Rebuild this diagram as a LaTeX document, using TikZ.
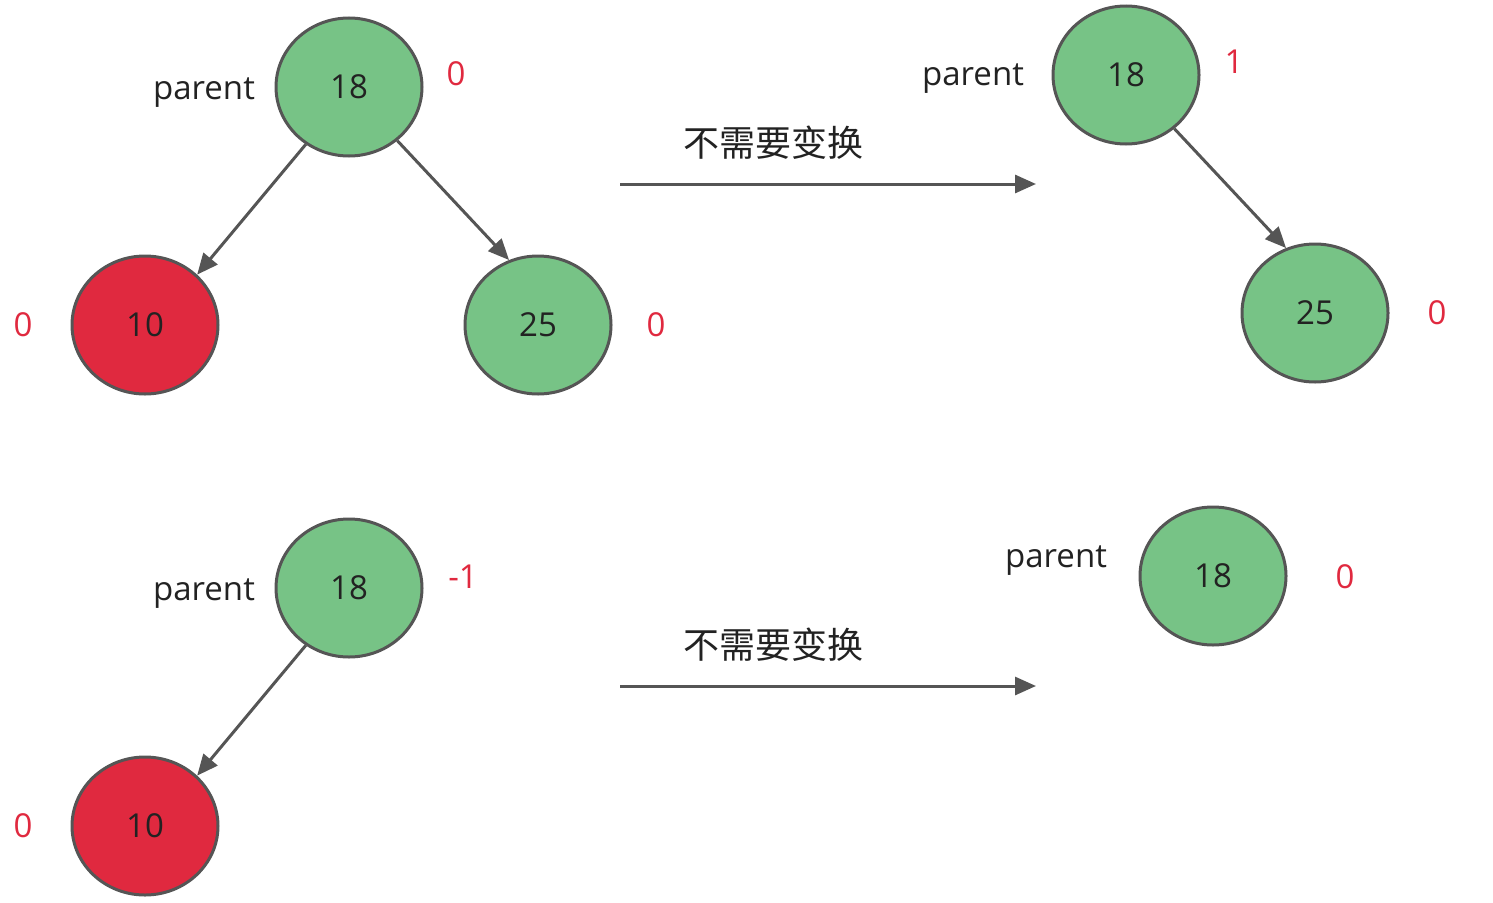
\documentclass[tikz,border=0pt]{standalone}
\usepackage{fontspec}
\setmainfont{Open Sans}
\newfontfamily\cjk{Noto Sans CJK SC}
\usetikzlibrary{shapes.geometric,arrows.meta}
\definecolor{gfill}{HTML}{77C386}
\definecolor{rfill}{HTML}{E0293F}
\definecolor{edgec}{HTML}{555555}
\definecolor{rtext}{HTML}{E0293F}
\definecolor{dtext}{HTML}{222222}
\tikzset{
  tnode/.style={ellipse, draw=edgec, line width=3pt, minimum width=146pt, minimum height=138pt, inner sep=0pt, text=dtext, font=\fontsize{33}{40}\selectfont},
  gnode/.style={tnode, fill=gfill},
  rnode/.style={tnode, fill=rfill},
  lbl/.style={text=dtext, font=\fontsize{33}{40}\selectfont, inner sep=0pt},
  bal/.style={text=rtext, font=\fontsize{33}{40}\selectfont, inner sep=0pt},
  cjklbl/.style={text=dtext, font=\cjk\fontsize{36}{42}\selectfont, inner sep=0pt},
  edge/.style={draw=edgec, line width=3pt, -{Triangle[length=21pt,width=18pt]}},
}
\begin{document}
\begin{tikzpicture}[x=1pt,y=-1pt]
\useasboundingbox (0,0) rectangle (1493,902);
% top-left tree
\node[gnode] (a18) at (349,87) {18};
\node[rnode] (a10) at (145,325) {10};
\node[gnode] (a25) at (538,325) {25};
\node[lbl] (ap) at (204,93) {parent};
\node[bal] (ab18) at (456,74) {0};
\node[bal] (ab10) at (23,325) {0};
\node[bal] (ab25) at (656,325) {0};
\draw[edge] (a18.-127) -- (a10.44);
\draw[edge] (a18.-48) -- (a25.114);
% top arrow
\coordinate (t1s) at (620,184);
\coordinate (t1e) at (1036,184);
\draw[edge] (t1s) -- (t1e);
\node[cjklbl] (t1) at (773,143) {不需要变换};
% top-right tree
\node[gnode] (b18) at (1126,75) {18};
\node[gnode] (b25) at (1315,313) {25};
\node[lbl] (bp) at (973,79) {parent};
\node[bal] (bb18) at (1234,62) {1};
\node[bal] (bb25) at (1437,313) {0};
\draw[edge] (b18.-48) -- (b25.114);
% bottom-left tree
\node[gnode] (c18) at (349,588) {18};
\node[rnode] (c10) at (145,826) {10};
\node[lbl] (cp) at (204,594) {parent};
\node[bal] (cb18) at (463,577) {-1};
\node[bal] (cb10) at (23,826) {0};
\draw[edge] (c18.-127) -- (c10.44);
% bottom arrow
\coordinate (t2s) at (620,686);
\coordinate (t2e) at (1036,686);
\draw[edge] (t2s) -- (t2e);
\node[cjklbl] (t2) at (773,645) {不需要变换};
% bottom-right
\node[gnode] (d18) at (1213,576) {18};
\node[lbl] (dp) at (1056,561) {parent};
\node[bal] (db18) at (1345,577) {0};
\end{tikzpicture}
\end{document}
